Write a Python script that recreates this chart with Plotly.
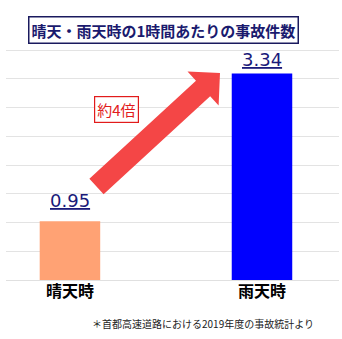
import plotly.graph_objects as go
import math

categories = ["晴天時", "雨天時"]
values = [0.95, 3.34]
value_labels = ["0.95", "3.34"]
bar_colors = ["#ffa274", "#0000ff"]
title_text = "晴天・雨天時の1時間あたりの事故件数"
ratio_text = "約4倍"
note_text = "＊首都高速道路における2019年度の事故統計より"

W, H = 342, 339
L, R, T, B = 6, 3, 48, 59
PW, PH = W - L - R, H - T - B

def px(x, y):
    return ((x - L) / PW, (H - B - y) / PH)

fig = go.Figure()
fig.add_trace(go.Bar(
    x=categories, y=values, marker=dict(color=bar_colors, line=dict(width=0)),
    width=0.315, hoverinfo="skip"))

# arrow polygon (pixel geometry -> paper)
Tx, Ty = 96.5, 186.5
Px, Py = 220.0, 73.0
dx, dy = Px - Tx, Py - Ty
ln = math.hypot(dx, dy)
dx, dy = dx / ln, dy / ln
nx, ny = -dy, dx
Lh, Hh, w = 23, 23, 10.5
Cx, Cy = Px - Lh * dx, Py - Lh * dy
pts = [
    (Tx - w * nx, Ty - w * ny),
    (Cx - w * nx, Cy - w * ny),
    (Cx - Hh * nx, Cy - Hh * ny),
    (Px, Py),
    (Cx + Hh * nx, Cy + Hh * ny),
    (Cx + w * nx, Cy + w * ny),
    (Tx + w * nx, Ty + w * ny),
]
path = "M " + " L ".join(f"{a:.4f},{b:.4f}" for a, b in (px(x, y) for x, y in pts)) + " Z"
fig.add_shape(type="path", path=path, xref="paper", yref="paper",
              fillcolor="#f44646", line=dict(width=0), layer="above")

# value labels
shifts = [8, 1]
for c, v, t, s in zip(categories, values, value_labels, shifts):
    fig.add_annotation(x=c, y=v, text=f"<u>{t}</u>", showarrow=False,
                       yanchor="bottom", yshift=s,
                       font=dict(family="DejaVu Sans", size=18, color="#1a1a7a"))

tx, ty = px(163.5, 30.5)
fig.add_annotation(x=tx, y=ty, xref="paper", yref="paper", text=title_text,
                   showarrow=False, xanchor="center", yanchor="middle",
                   font=dict(family="Noto Sans CJK JP", size=15, color="#1a1a6e", weight="bold"),
                   bordercolor="#1a1a5e", borderwidth=1.5, borderpad=2, bgcolor="white")

rx, ry = px(116, 109)
fig.add_annotation(x=rx, y=ry, xref="paper", yref="paper", text=ratio_text,
                   showarrow=False, xanchor="center", yanchor="middle",
                   font=dict(family="Noto Sans CJK JP", size=15, color="#e21b1b"),
                   bordercolor="#e21b1b", borderwidth=1.2, borderpad=2, bgcolor="white")

nx_, ny_ = px(316, 323)
fig.add_annotation(x=nx_, y=ny_, xref="paper", yref="paper", text=note_text,
                   showarrow=False, xanchor="right", yanchor="middle",
                   font=dict(family="Noto Sans CJK JP", size=10, color="#222222"))

fig.update_layout(
    width=W, height=H, margin=dict(l=L, r=R, t=T, b=B),
    paper_bgcolor="white", plot_bgcolor="white", showlegend=False,
    xaxis=dict(range=[-0.333, 1.401], showgrid=False, showline=False, ticks="",
               tickfont=dict(family="Noto Sans CJK JP", size=16, color="black", weight="bold"),
               fixedrange=True),
    yaxis=dict(range=[0, 3.72 * PH / 230], tick0=0, dtick=0.465, showticklabels=False, showgrid=True,
               gridcolor="#e3e3e3", gridwidth=1, zeroline=True, zerolinecolor="#e0e0e0",
               zerolinewidth=1, showline=False, fixedrange=True),
)
fig.write_html("out.html")
